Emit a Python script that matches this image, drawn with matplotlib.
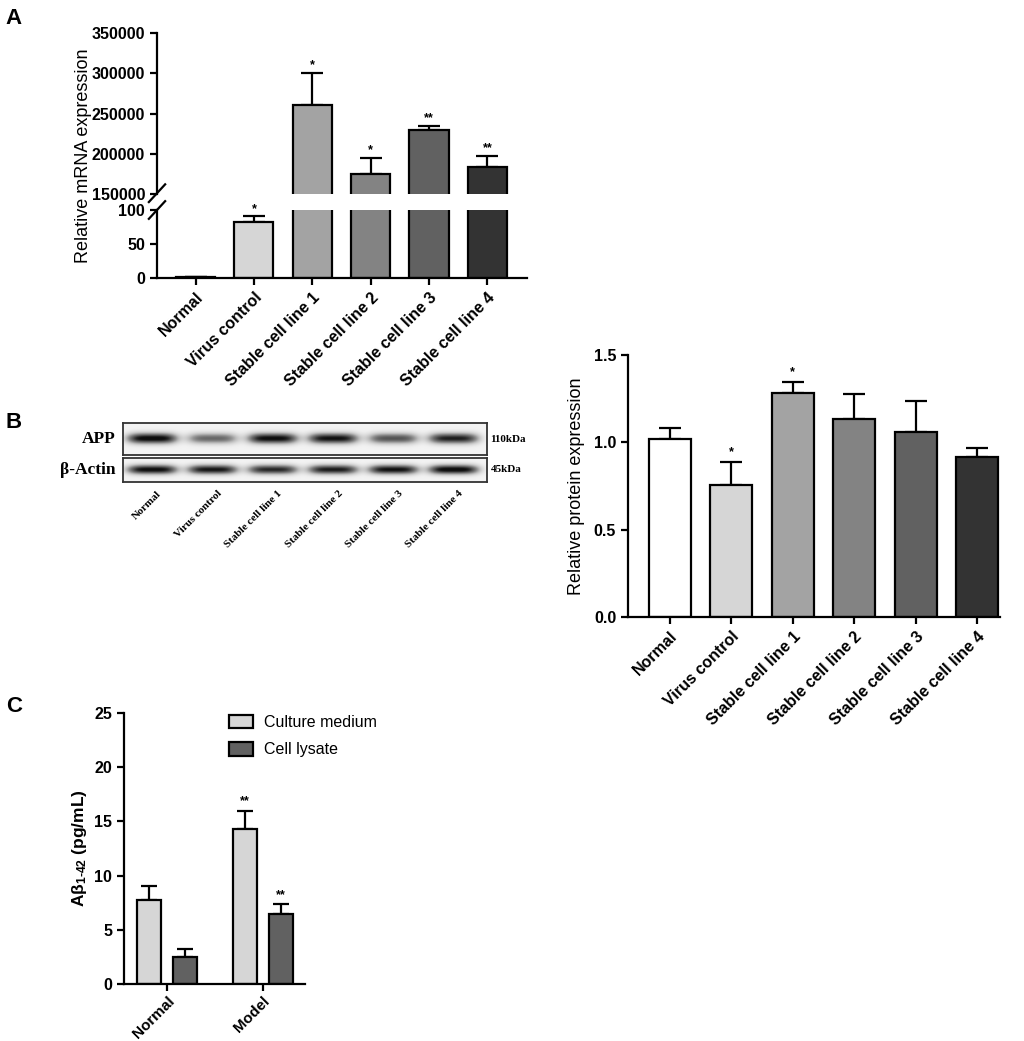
import numpy as np
import matplotlib
matplotlib.use('Agg')
import matplotlib.pyplot as plt

plt.rcParams['font.family'] = ['Liberation Sans', 'DejaVu Sans']
plt.rcParams['font.weight'] = 'bold'
plt.rcParams['mathtext.fontset'] = 'custom'
plt.rcParams['mathtext.rm'] = 'Liberation Sans:bold'
plt.rcParams['mathtext.it'] = 'Liberation Sans:bold'
plt.rcParams['mathtext.bf'] = 'Liberation Sans:bold'

# ---- data ----
groups = ['Normal', 'Virus control', 'Stable cell line 1', 'Stable cell line 2',
          'Stable cell line 3', 'Stable cell line 4']
bar_colors = ['#ffffff', '#d6d6d6', '#a3a3a3', '#838383', '#616161', '#333333']

# panel A: relative mRNA expression
mrna_mean = [1, 83, 261000, 175000, 229000, 184000]
mrna_err = [0, 8, 39000, 20000, 5500, 13500]
mrna_sig = ['', '*', '*', '*', '**', '**']

# panel B: western blot band darkness (0 = none, 1 = black)
app_band = [0.95, 0.6, 0.92, 0.9, 0.68, 0.85]
actin_band = [0.92, 0.88, 0.82, 0.86, 0.9, 0.95]
protein_mean = [1.02, 0.755, 1.28, 1.135, 1.06, 0.915]
protein_err = [0.06, 0.135, 0.065, 0.14, 0.175, 0.05]
protein_sig = ['', '*', '*', '', '', '']

# panel C: Abeta 1-42
c_groups = ['Normal', 'Model']
medium_mean = [7.75, 14.3]
medium_err = [1.25, 1.7]
lysate_mean = [2.45, 6.45]
lysate_err = [0.8, 0.9]
c_sig_medium = ['', '**']
c_sig_lysate = ['', '**']

W, H = 1024, 1041
fig = plt.figure(figsize=(W / 100, H / 100), dpi=100)


def px_axes(x0, y0, x1, y1):
    return fig.add_axes([x0 / W, 1 - y1 / H, (x1 - x0) / W, (y1 - y0) / H])


def style(ax, lw=1.6):
    for s in ['top', 'right']:
        ax.spines[s].set_visible(False)
    for s in ['left', 'bottom']:
        ax.spines[s].set_linewidth(lw)
    ax.tick_params(width=lw, length=5, labelsize=11.5)
    for t in ax.get_yticklabels() + ax.get_xticklabels():
        t.set_fontweight('bold')


def bars(ax, x, mean, err, colors, width, sig, star_off):
    ax.bar(x, mean, width=width, color=colors, edgecolor='black', linewidth=1.6, zorder=2)
    ax.errorbar(x, mean, yerr=[np.zeros(len(mean)), err], fmt='none', ecolor='black',
                elinewidth=1.6, capsize=8, capthick=1.6, zorder=1)
    for xi, m, e, s in zip(x, mean, err, sig):
        if s:
            ax.text(xi, m + e + star_off, s, ha='center', va='bottom', fontsize=9)


# ---- panel A (broken axis) ----
xa = np.arange(len(groups))
ax_top = px_axes(157, 33, 527, 194)
ax_bot = px_axes(157, 210, 527, 278)
for ax in (ax_top, ax_bot):
    bars(ax, xa, mrna_mean, mrna_err, bar_colors, 0.67, [], 0)
    ax.set_xlim(-0.66, 5.68)
for xi, m, e, s in zip(xa, mrna_mean, mrna_err, mrna_sig):
    if s:
        target = ax_top if m > 1000 else ax_bot
        off = 2500 if m > 1000 else 1.5
        target.text(xi, m + e + off, s, ha='center', va='bottom', fontsize=9)
ax_top.set_ylim(150000, 350000)
ax_top.set_yticks([150000, 200000, 250000, 300000, 350000])
ax_bot.set_ylim(0, 100)
ax_bot.set_yticks([0, 50, 100])
ax_bot.set_xticks(xa)
ax_bot.set_xticklabels(groups, rotation=45, ha='right', rotation_mode='anchor')
style(ax_top)
style(ax_bot)
ax_top.spines['bottom'].set_visible(False)
ax_top.tick_params(axis='x', bottom=False, labelbottom=False)
# break marks
ax_top.plot([-0.022, 0.022], [-0.05, 0.06], transform=ax_top.transAxes,
            color='black', lw=1.6, clip_on=False)
ax_bot.plot([-0.022, 0.022], [0.87, 1.13], transform=ax_bot.transAxes,
            color='black', lw=1.6, clip_on=False)
fig.text(83 / W, 1 - 156 / H, 'Relative mRNA expression', rotation=90,
         ha='center', va='center', fontsize=13, fontweight='normal')

# ---- panel B western blot ----
lane_x = np.arange(len(groups))
xg = np.linspace(-0.48, 5.55, 500)
for (y0, y1, vals, label, kda, bh) in ((423, 455, app_band, 'APP', '110kDa', 0.17),
                                       (458, 482, actin_band, 'β-Actin', '45kDa', 0.2)):
    axb = px_axes(123, y0, 487, y1)
    yg = np.linspace(0, 1, 80)
    X, Y = np.meshgrid(xg, yg)
    img = np.full(X.shape, 0.1)
    for lx, v in zip(lane_x, vals):
        img += v * np.exp(-((X - lx) / 0.42) ** 4) * np.exp(-((Y - 0.52) / bh) ** 2)
    axb.imshow(np.clip(img, 0, 1), cmap='Greys', vmin=0, vmax=1.05, aspect='auto',
               extent=[-0.48, 5.55, 0, 1], origin='lower', interpolation='bilinear')
    axb.set_xticks([])
    axb.set_yticks([])
    for s in axb.spines.values():
        s.set_linewidth(1.3)
        s.set_edgecolor('#333333')
    axb.text(-0.02, 0.5, label, transform=axb.transAxes, ha='right', va='center',
             family='Liberation Serif', fontsize=12.5, fontweight='bold')
    axb.text(1.01, 0.5, kda, transform=axb.transAxes, ha='left', va='center',
             family='Liberation Serif', fontsize=8, fontweight='bold')
    if label == 'β-Actin':
        for lx, g in zip(lane_x, groups):
            axb.text(lx + 0.08, -0.3, g, rotation=45, ha='right', va='top',
                     rotation_mode='anchor', family='Liberation Serif', fontsize=8,
                     fontweight='bold', transform=axb.get_xaxis_transform())

# ---- panel B protein bar chart ----
ax_p = px_axes(628, 355, 1000, 617)
bars(ax_p, lane_x, protein_mean, protein_err, bar_colors, 0.68, protein_sig, 0.02)
ax_p.set_xlim(-0.68, 5.37)
ax_p.set_ylim(0, 1.5)
ax_p.set_yticks([0.0, 0.5, 1.0, 1.5])
ax_p.set_yticklabels(['0.0', '0.5', '1.0', '1.5'])
ax_p.set_xticks(lane_x)
ax_p.set_xticklabels(groups, rotation=45, ha='right', rotation_mode='anchor')
style(ax_p)
ax_p.set_ylabel('Relative protein expression', fontsize=13, fontweight='normal', labelpad=6)

# ---- panel C ----
xc = np.arange(len(c_groups))
ax_c = px_axes(124, 713, 305, 984)
off = 0.185
ax_c.bar(xc - off, medium_mean, width=0.25, color='#d6d6d6', edgecolor='black',
         linewidth=1.6, label='Culture medium', zorder=2)
ax_c.bar(xc + off, lysate_mean, width=0.25, color='#616161', edgecolor='black',
         linewidth=1.6, label='Cell lysate', zorder=2)
ax_c.errorbar(xc - off, medium_mean, yerr=[np.zeros(2), medium_err], fmt='none',
              ecolor='black', elinewidth=1.6, capsize=6, capthick=1.6, zorder=1)
ax_c.errorbar(xc + off, lysate_mean, yerr=[np.zeros(2), lysate_err], fmt='none',
              ecolor='black', elinewidth=1.6, capsize=6, capthick=1.6, zorder=1)
for i in range(len(c_groups)):
    if c_sig_medium[i]:
        ax_c.text(xc[i] - off, medium_mean[i] + medium_err[i] + 0.3, c_sig_medium[i],
                  ha='center', va='bottom', fontsize=9)
    if c_sig_lysate[i]:
        ax_c.text(xc[i] + off, lysate_mean[i] + lysate_err[i] + 0.3, c_sig_lysate[i],
                  ha='center', va='bottom', fontsize=9)
ax_c.set_xlim(-0.45, 1.44)
ax_c.set_ylim(0, 25)
ax_c.set_yticks([0, 5, 10, 15, 20, 25])
ax_c.set_xticks(xc)
ax_c.set_xticklabels(c_groups, rotation=45, ha='right', rotation_mode='anchor')
style(ax_c)
ax_c.tick_params(axis='x', pad=2, labelsize=11)
ax_c.set_ylabel('Aβ$_{1\u201042}$ (pg/mL)', fontsize=12.5, fontweight='bold', labelpad=4)
leg = ax_c.legend(loc='upper left', bbox_to_anchor=(0.5, 1.045), frameon=False,
                  fontsize=11.5, handlelength=1.5, handleheight=0.9, handletextpad=0.7,
                  labelspacing=0.75)
for t in leg.get_texts():
    t.set_fontweight('normal')
for p in leg.get_patches():
    p.set_linewidth(1.6)

# panel letters
for ch, (x, y) in zip('ABC', ((14, 18), (14, 423), (14, 707))):
    fig.text(x / W, 1 - y / H, ch, fontsize=16, fontweight='bold', ha='center', va='center')

fig.savefig('out.png', dpi=100)
